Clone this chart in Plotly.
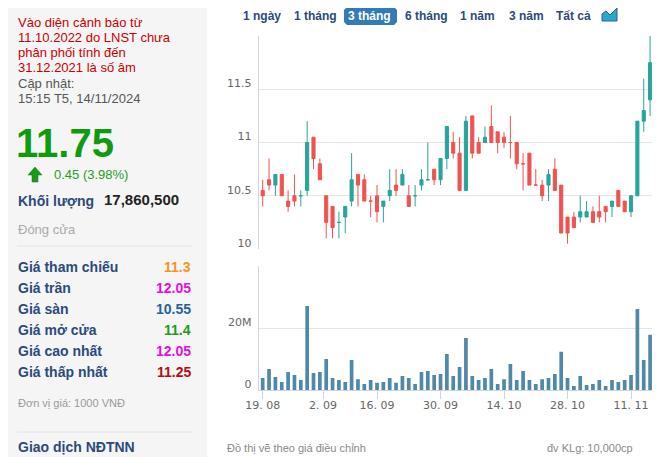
import pandas as pd
import plotly.graph_objects as go

# the page has an 8px body margin, so the figure is drawn 8px in from the window corner
OFF = 8
W, H = 667 - OFF, 457 - OFF

# trading days 19.08 - 14.11.2024 (2.09 and 3.09 are holidays)
holidays = ["2024-09-02", "2024-09-03"]
dates = [d for d in pd.bdate_range("2024-08-19", "2024-11-14") if d.strftime("%Y-%m-%d") not in holidays]

opens = [10.55, 10.65, 10.60, 10.70, 10.45, 10.50, 10.50, 10.55, 11.05, 10.80,
         10.50, 10.40, 10.25, 10.30, 10.45, 10.70, 10.65, 10.45, 10.50, 10.40,
         10.50, 10.60, 10.60, 10.50, 10.50, 10.60, 10.65, 10.75, 10.65, 10.85,
         11.00, 10.90, 10.55, 11.25, 11.00, 11.00, 11.15, 11.10, 11.05, 11.00,
         11.00, 10.80, 10.90, 10.60, 10.60, 10.60, 10.75, 10.60, 10.30, 10.30,
         10.30, 10.30, 10.35, 10.35, 10.40, 10.40, 10.55, 10.45, 10.35, 10.50,
         11.20, 11.40]
highs = [10.65, 10.85, 10.70, 10.70, 10.55, 10.70, 10.55, 11.20, 11.05, 10.85,
         10.50, 10.40, 10.35, 10.40, 10.90, 10.70, 10.70, 10.50, 10.60, 10.45,
         10.75, 10.75, 10.75, 10.60, 10.60, 10.75, 11.00, 10.75, 10.85, 11.15,
         11.10, 11.05, 11.25, 11.25, 11.05, 11.15, 11.35, 11.10, 11.10, 11.25,
         11.00, 10.90, 10.90, 10.75, 10.65, 10.75, 10.85, 10.60, 10.30, 10.35,
         10.50, 10.45, 10.40, 10.50, 10.40, 10.45, 10.55, 10.45, 10.50, 11.20,
         11.60, 12.05]
lows = [10.40, 10.55, 10.50, 10.50, 10.35, 10.40, 10.40, 10.50, 10.75, 10.65,
        10.10, 10.10, 10.10, 10.15, 10.40, 10.40, 10.45, 10.30, 10.25, 10.25,
        10.45, 10.50, 10.60, 10.40, 10.40, 10.55, 10.65, 10.60, 10.60, 10.75,
        10.85, 10.55, 10.55, 10.85, 10.90, 11.00, 11.00, 10.90, 10.95, 10.85,
        10.75, 10.55, 10.60, 10.60, 10.45, 10.45, 10.55, 10.15, 10.05, 10.20,
        10.25, 10.30, 10.25, 10.25, 10.25, 10.30, 10.40, 10.35, 10.30, 10.50,
        11.10, 11.25]
closes = [10.50, 10.60, 10.70, 10.50, 10.40, 10.45, 10.50, 11.00, 10.85, 10.65,
          10.25, 10.20, 10.25, 10.40, 10.65, 10.60, 10.45, 10.45, 10.35, 10.45,
          10.55, 10.55, 10.70, 10.40, 10.50, 10.65, 10.65, 10.65, 10.85, 11.15,
          10.90, 10.55, 11.20, 10.90, 10.90, 11.05, 11.00, 11.00, 11.00, 11.00,
          10.80, 10.80, 10.60, 10.60, 10.50, 10.70, 10.55, 10.15, 10.15, 10.20,
          10.35, 10.35, 10.25, 10.30, 10.35, 10.45, 10.40, 10.35, 10.50, 11.20,
          11.30, 11.75]
# volume, millions of shares
volume_m = [3.9, 6.8, 4.2, 2.6, 5.8, 4.8, 3.2, 27.1, 5.5, 5.8,
            10.0, 3.9, 3.2, 2.6, 9.7, 3.5, 1.9, 3.2, 2.3, 2.6,
            3.9, 2.3, 4.5, 3.9, 1.9, 5.8, 6.1, 4.8, 5.2, 11.6,
            4.5, 7.4, 16.8, 4.5, 3.2, 3.9, 6.8, 1.9, 3.5, 8.4,
            3.2, 6.1, 3.2, 1.9, 3.5, 3.9, 5.2, 12.3, 3.9, 1.3,
            4.5, 1.6, 1.9, 3.2, 1.3, 3.2, 2.6, 3.2, 4.8, 26.1,
            9.7, 17.86]

tick_dates = ["2024-08-19", "2024-09-02", "2024-09-16", "2024-09-30",
              "2024-10-14", "2024-10-28", "2024-11-11"]
price_ticks = [10, 10.5, 11, 11.5, 12]
price_labels = ["10", "10.5", "11", "11.5", ""]
vol_ticks = [0, 20, 40]
vol_labels = ["0", "20M", ""]

range_buttons = ["1 ngày", "1 tháng", "3 tháng", "6 tháng", "1 năm", "3 năm", "Tất cả"]
button_x = [262, 315, 370, 426, 477, 526, 573]
selected = "3 tháng"

warning_lines = ["Vào diện cảnh báo từ", "11.10.2022 do LNST chưa",
                 "phân phối tính đến", "31.12.2021 là số âm"]
price_rows = ["Giá tham chiếu", "Giá trần", "Giá sàn", "Giá mở cửa", "Giá cao nhất", "Giá thấp nhất"]
price_vals = ["11.3", "12.05", "10.55", "11.4", "12.05", "11.25"]
price_cols = ["#f7941d", "#e010e0", "#1f64a0", "#18a018", "#e010e0", "#b01010"]

RED = "#ef5350"
TEAL = "#26a69a"
BLUE_TXT = "#2b4a7c"
ARIAL = "Arial, Liberation Sans, sans-serif"
AXF = dict(family="DejaVu Sans", size=11, color="#666666")


# window pixel -> paper coordinates
def px(x):
    return (x - OFF) / W


def py(y):
    return 1 - (y - OFF) / H


def path(points):
    return "M " + " L ".join(f"{px(x):.5f},{py(y):.5f}" for x, y in points) + " Z"


idx = list(range(len(dates)))
date_pos = {d.strftime("%Y-%m-%d"): i for i, d in enumerate(dates)}


def tick_pos(s):
    if s in date_pos:
        return date_pos[s]
    t = pd.Timestamp(s)
    after = next(i for i, d in enumerate(dates) if d > t)
    return after - 0.5


tick_vals = [tick_pos(s) for s in tick_dates]
tick_text = [f"{pd.Timestamp(s).day}. {pd.Timestamp(s).month:02d}" for s in tick_dates]

fig = go.Figure()
fig.add_trace(go.Candlestick(
    x=idx, open=opens, high=highs, low=lows, close=closes,
    xaxis="x", yaxis="y", whiskerwidth=0,
    increasing=dict(line=dict(color=TEAL, width=1), fillcolor=TEAL),
    decreasing=dict(line=dict(color=RED, width=1), fillcolor=RED),
    hoverinfo="skip", showlegend=False,
))
fig.add_trace(go.Bar(
    x=idx, y=volume_m, xaxis="x2", yaxis="y2",
    marker=dict(color="#4f88a8", line=dict(width=0)),
    hoverinfo="skip", showlegend=False,
))

xdom = [px(258.7), px(652)]
fig.update_layout(
    width=W, height=H,
    margin=dict(l=0, r=0, t=0, b=0, pad=0, autoexpand=False),
    paper_bgcolor="white", plot_bgcolor="white",
    showlegend=False,
    bargap=0.42,
    xaxis=dict(domain=xdom, range=[-0.63, 61.3], anchor="y", showticklabels=False,
               showgrid=False, zeroline=False, rangeslider=dict(visible=False), automargin=False),
    xaxis2=dict(domain=xdom, matches="x", anchor="y2", tickvals=tick_vals, ticktext=tick_text,
                ticks="outside", ticklen=8, tickcolor="#ccd6eb", showline=True,
                linecolor="#ccd6eb", showgrid=False, zeroline=False, tickfont=AXF,
                ticklabelstandoff=-3, automargin=False),
    yaxis=dict(domain=[py(249), py(36)], range=[10, 12], tickvals=price_ticks,
               ticktext=price_labels, gridcolor="#e6e6e6", showline=True, linecolor="#ccd6eb",
               zeroline=False, tickfont=AXF, ticklabelshift=-6, ticklabelstandoff=4, automargin=False),
    yaxis2=dict(domain=[py(390), py(266)], range=[0, 40], tickvals=vol_ticks,
                ticktext=vol_labels, gridcolor="#e6e6e6", showline=True, linecolor="#ccd6eb",
                zeroline=False, tickfont=AXF, ticklabelshift=-6, ticklabelstandoff=4, automargin=False),
)

shapes = []
# left info panel
shapes.append(dict(type="rect", xref="paper", yref="paper", x0=0, x1=px(207), y0=0, y1=1,
                   fillcolor="#f5f5f5", line=dict(width=0), layer="below"))
for yy in (246, 432):
    shapes.append(dict(type="line", xref="paper", yref="paper", x0=px(17), x1=px(192),
                       y0=py(yy), y1=py(yy), line=dict(color="#e4e4e4", width=1)))
# green up arrow
shapes.append(dict(type="path", xref="paper", yref="paper",
                   path=path([(35, 167), (42, 175), (38, 175), (38, 182), (32, 182), (32, 175), (28, 175)]),
                   fillcolor="#1b9a1b", line=dict(color="#0f7a0f", width=0.5)))
# selected range button
r = 3
x0b, x1b, y0b, y1b = 344, 397, 7, 25
shapes.append(dict(type="path", xref="paper", yref="paper",
                   path=path([(x0b + r, y0b), (x1b - r, y0b), (x1b, y0b + r), (x1b, y1b - r),
                              (x1b - r, y1b), (x0b + r, y1b), (x0b, y1b - r), (x0b, y0b + r)]),
                   fillcolor="#337ab7", line=dict(width=0)))
# area chart icon
shapes.append(dict(type="path", xref="paper", yref="paper",
                   path=path([(602, 21), (602, 14), (606, 11), (610, 15), (617, 8), (617, 21)]),
                   fillcolor="#2aa8c8", line=dict(color="#2b5fa8", width=1)))
fig.update_layout(shapes=shapes)

ann = []


def text(x, y, s, size=13, color="#333", bold=False, anchor="left", family=ARIAL):
    if bold:
        s = f"<b>{s}</b>"
    ann.append(dict(x=px(x), y=py(y), xref="paper", yref="paper", text=s, showarrow=False,
                    xanchor=anchor, yanchor="middle", borderpad=0,
                    font=dict(family=family, size=size, color=color)))


for i, line in enumerate(warning_lines):
    text(17, 22.5 + 15 * i, line, color="#cc0000")
text(17, 83, "Cập nhật:", color="#555555")
text(17, 98, "15:15 T5, 14/11/2024", color="#555555")
text(15, 143, "11.75", size=40, color="#0f9a0f", bold=True)
text(53, 174, "0.45 (3.98%)", size=13, color="#2a9a2a")
text(17, 201, "Khối lượng", size=14, color=BLUE_TXT, bold=True)
text(103, 199, "17,860,500", size=15, color="#222222", bold=True)
text(17, 229, "Đóng cửa", color="#aaaaaa")
for i, (lab, val, col) in enumerate(zip(price_rows, price_vals, price_cols)):
    yy = 267 + 21 * i
    text(17, yy, lab, size=14, color=BLUE_TXT, bold=True)
    text(192, yy, val, size=14, color=col, bold=True, anchor="right")
text(17, 403, "Đơn vị giá: 1000 VNĐ", size=11, color="#999999")
text(17, 447, "Giao dịch NĐTNN", size=14, color=BLUE_TXT, bold=True)

for lab, bx in zip(range_buttons, button_x):
    text(bx, 16, lab, size=12, color="white" if lab == selected else BLUE_TXT, bold=True, anchor="center")

text(226, 448, "Đồ thị vẽ theo giá điều chỉnh", size=11, color="#888888")
text(546, 448, "đv KLg: 10,000cp", size=11, color="#888888")

fig.update_layout(annotations=ann)
fig.write_html("out.html")
